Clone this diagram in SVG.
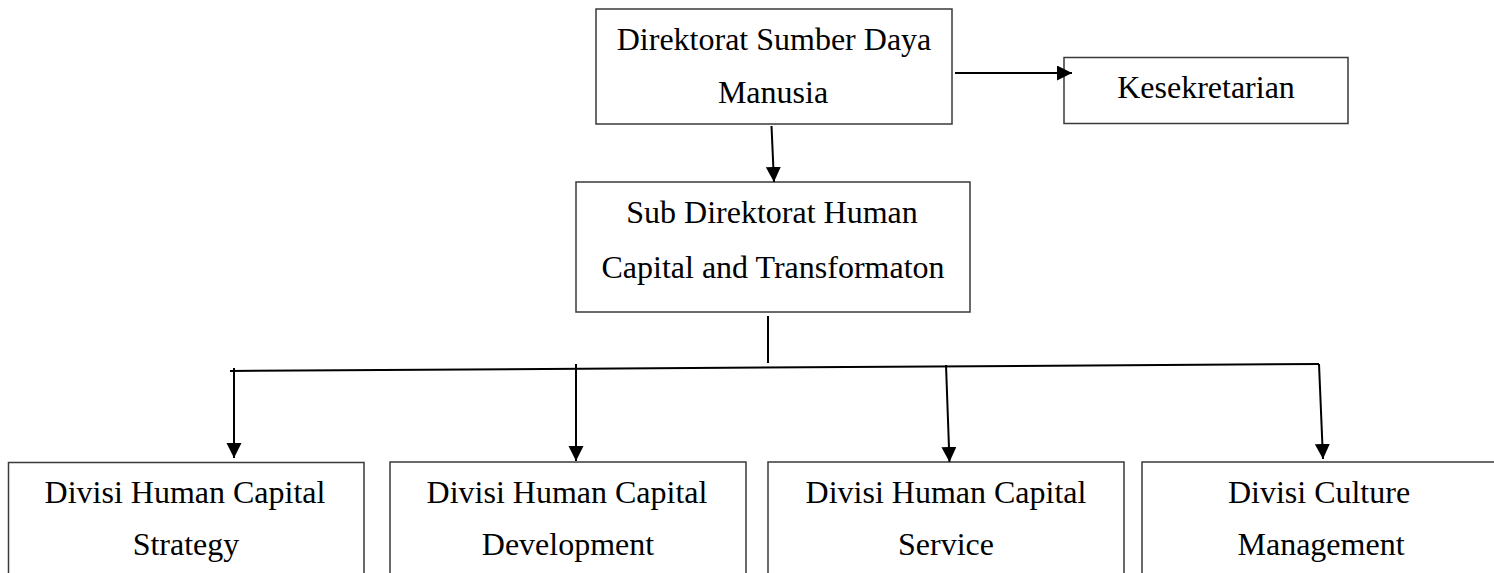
<svg xmlns="http://www.w3.org/2000/svg" width="1494" height="573" viewBox="0 0 1494 573">
<style>
  .box { fill: #ffffff; stroke: #3a3a3a; stroke-width: 1.5; }
  .lbl { font-family: "Liberation Serif", "Times New Roman", serif; font-size: 32px; fill: #000000; text-anchor: middle; }
  .con { stroke: #000000; stroke-width: 2; fill: none; }
</style>
<defs>
  <marker id="arr" markerUnits="userSpaceOnUse" markerWidth="16" markerHeight="16" viewBox="0 0 16 16" refX="15" refY="7.5" orient="auto">
    <path d="M0,0 L15,7.5 L0,15 z" fill="#000000"/>
  </marker>
</defs>
<rect width="1494" height="573" fill="#ffffff"/>

<g id="node-direktorat">
  <rect class="box" x="596" y="9" width="356" height="115"/>
  <text class="lbl" x="774" y="50">Direktorat Sumber Daya</text>
  <text class="lbl" x="773" y="103">Manusia</text>
</g>

<g id="node-kesekretarian">
  <rect class="box" x="1064" y="57.5" width="284" height="66"/>
  <text class="lbl" x="1206" y="98">Kesekretarian</text>
</g>

<g id="node-subdirektorat">
  <rect class="box" x="576" y="182" width="394" height="130"/>
  <text class="lbl" x="772" y="223">Sub Direktorat Human</text>
  <text class="lbl" x="773" y="278">Capital and Transformaton</text>
</g>

<g id="node-strategy">
  <rect class="box" x="8.5" y="462.5" width="355.5" height="150"/>
  <text class="lbl" x="185" y="503">Divisi Human Capital</text>
  <text class="lbl" x="186" y="555">Strategy</text>
</g>

<g id="node-development">
  <rect class="box" x="390" y="462" width="356" height="150"/>
  <text class="lbl" x="567" y="503">Divisi Human Capital</text>
  <text class="lbl" x="568" y="555">Development</text>
</g>

<g id="node-service">
  <rect class="box" x="768" y="462" width="356" height="150"/>
  <text class="lbl" x="946" y="503">Divisi Human Capital</text>
  <text class="lbl" x="946" y="555">Service</text>
</g>

<g id="node-culture">
  <rect class="box" x="1142" y="462" width="400" height="150"/>
  <text class="lbl" x="1319" y="503">Divisi Culture</text>
  <text class="lbl" x="1321" y="555">Management</text>
</g>

<g id="connectors">
  <line class="con" x1="955" y1="73" x2="1072" y2="73" marker-end="url(#arr)"/>
  <line class="con" x1="771.5" y1="126" x2="774" y2="182" marker-end="url(#arr)"/>
  <line class="con" x1="768" y1="316" x2="768" y2="363"/>
  <line class="con" x1="230" y1="371" x2="1319" y2="364"/>
  <line class="con" x1="234" y1="368" x2="234" y2="458" marker-end="url(#arr)"/>
  <line class="con" x1="576" y1="364" x2="576" y2="461" marker-end="url(#arr)"/>
  <line class="con" x1="946" y1="365" x2="949.5" y2="462" marker-end="url(#arr)"/>
  <line class="con" x1="1319" y1="364" x2="1323" y2="459" marker-end="url(#arr)"/>
</g>
</svg>
